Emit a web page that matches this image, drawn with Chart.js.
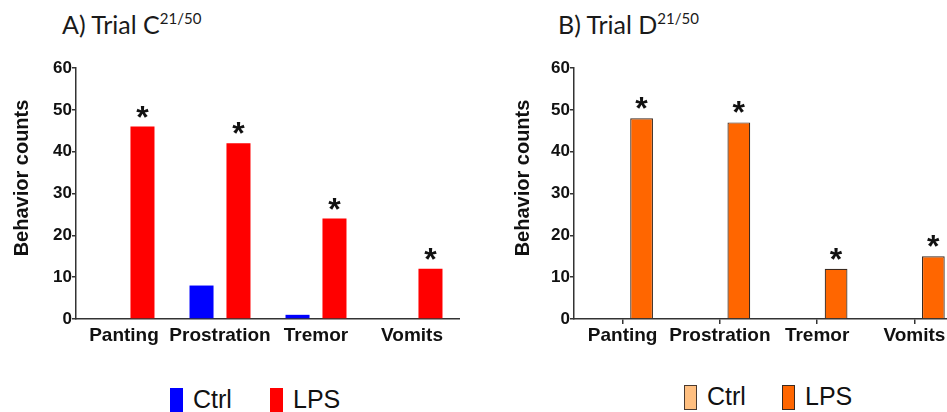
<!DOCTYPE html>
<html>
<head>
<meta charset="utf-8">
<script src="https://cdn.jsdelivr.net/npm/chart.js@4.4.1/dist/chart.umd.min.js"></script>
<style>
  html, body { margin: 0; padding: 0; background: #fff; overflow: hidden; }
  #wrap { position: relative; width: 947px; height: 412px; overflow: hidden; }
  canvas { position: absolute; top: 0; }
  #graficoA { left: 0; }
  #graficoB { left: 474px; }
  .titulo { position: absolute; top: 12px; font-family: 'Lato'; font-size: 25px; line-height: 25px; color: #1a1a1a; white-space: nowrap; }
  .titulo sup { font-size: 15px; vertical-align: 10px; line-height: 0; }
  .caixa { position: absolute; width: 13px; height: 26px; box-sizing: border-box; }
  .rotulo { position: absolute; font-family: 'Liberation Sans', Arial, sans-serif; font-size: 25px; line-height: 25px; color: #111; white-space: nowrap; }
</style>
</head>
<body>
<div id="wrap">
  <div class="titulo" style="left:62px">A) Trial C<sup>21/50</sup></div>
  <div class="titulo" style="left:558px">B) Trial D<sup>21/50</sup></div>

  <canvas id="graficoA" width="460" height="360"></canvas>
  <canvas id="graficoB" width="489" height="360"></canvas>

  <!-- legendas -->
  <div class="caixa" style="left:170px; top:388px; background:#0000ff"></div>
  <div class="rotulo" style="left:193px; top:387px">Ctrl</div>
  <div class="caixa" style="left:270px; top:388px; background:#ff0000"></div>
  <div class="rotulo" style="left:293px; top:387px">LPS</div>

  <div class="caixa" style="left:684px; top:385px; height:25px; background:#ffbf80; border:1.5px solid #4a3a30"></div>
  <div class="rotulo" style="left:707px; top:384px">Ctrl</div>
  <div class="caixa" style="left:782px; top:385px; height:25px; background:#ff6600; border:1.5px solid #3a2a20"></div>
  <div class="rotulo" style="left:805px; top:384px">LPS</div>
</div>

<script>
// ========== DADOS ==========
const categorias = ['Panting', 'Prostration', 'Tremor', 'Vomits'];
const ctrlA = [0, 8, 1, 0];
const lpsA = [46, 42, 24, 12];
const ctrlB = [0, 0, 0, 0];
const lpsB = [48, 47, 12, 15];
const sigA = ['*', '*', '*', '*'];
const sigB = ['*', '*', '*', '*'];
const yTicks = [0, 10, 20, 30, 40, 50, 60];

// estrelas sobre as barras LPS + título do eixo y
const marcas = {
  id: 'marcas',
  afterDatasetsDraw(chart, args, opts) {
    const ctx = chart.ctx;
    const meta = chart.getDatasetMeta(1);
    ctx.save();
    ctx.fillStyle = '#111';
    ctx.font = 'bold 32px "Liberation Sans"';
    ctx.textAlign = 'center';
    ctx.textBaseline = 'alphabetic';
    meta.data.forEach((bar, i) => {
      if (opts.sig[i]) ctx.fillText(opts.sig[i], bar.x, bar.y + 1);
    });
    ctx.translate(opts.tituloX, 178);
    ctx.rotate(-Math.PI / 2);
    ctx.font = 'bold 20px "Liberation Sans"';
    ctx.textBaseline = 'middle';
    ctx.fillText('Behavior counts', 0, 0);
    ctx.restore();
  }
};

function escalas(larguraY, tickX) {
  return {
    x: {
      grid: { drawOnChartArea: false, offset: false, tickLength: 5, color: '#333', tickColor: tickX ? '#333' : 'transparent', lineWidth: 1.5 },
      border: { color: '#333', width: 1.5 },
      ticks: { color: '#111', padding: 0, maxRotation: 0, autoSkip: false, font: { family: 'Liberation Sans', size: 19, weight: 'bold' } },
      afterFit: s => { s.height = 41; }
    },
    y: {
      min: 0, max: 60,
      afterBuildTicks: s => { s.ticks = yTicks.map(v => ({ value: v })); },
      grid: { drawOnChartArea: false, tickLength: 4, color: '#333', lineWidth: 1.5 },
      border: { color: '#333', width: 1.5 },
      ticks: { color: '#111', padding: 0, font: { family: 'Liberation Sans', size: 17, weight: 'bold' } },
      afterFit: s => { s.width = larguraY; }
    }
  };
}

function opcoes(larguraY, tickX, sig, tituloX) {
  return {
    responsive: false,
    animation: false,
    devicePixelRatio: 1,
    layout: { padding: { top: 68, right: 0, bottom: 0, left: 0 } },
    plugins: {
      legend: { display: false },
      tooltip: { enabled: false },
      marcas: { sig: sig, tituloX: tituloX }
    },
    scales: escalas(larguraY, tickX)
  };
}

// ========== GRÁFICO A ==========
new Chart(document.getElementById('graficoA'), {
  type: 'bar',
  data: {
    labels: categorias,
    datasets: [
      { label: 'Ctrl', data: ctrlA, backgroundColor: '#0000ff', categoryPercentage: 0.77, barPercentage: 0.65 },
      { label: 'LPS', data: lpsA, backgroundColor: '#ff0000', categoryPercentage: 0.77, barPercentage: 0.65 }
    ]
  },
  options: opcoes(76, false, sigA, 22),
  plugins: [marcas]
});

// ========== GRÁFICO B ==========
new Chart(document.getElementById('graficoB'), {
  type: 'bar',
  data: {
    labels: categorias,
    datasets: [
      { label: 'Ctrl', data: ctrlB, backgroundColor: '#ffbf80', borderColor: '#4a3a30', borderWidth: 1.2, categoryPercentage: 0.78, barPercentage: 0.6 },
      { label: 'LPS', data: lpsB, backgroundColor: '#ff6600', borderColor: '#3a2a20', borderWidth: 1.2, categoryPercentage: 0.78, barPercentage: 0.6 }
    ]
  },
  options: opcoes(100, true, sigB, 49),
  plugins: [marcas]
});
</script>
</body>
</html>
